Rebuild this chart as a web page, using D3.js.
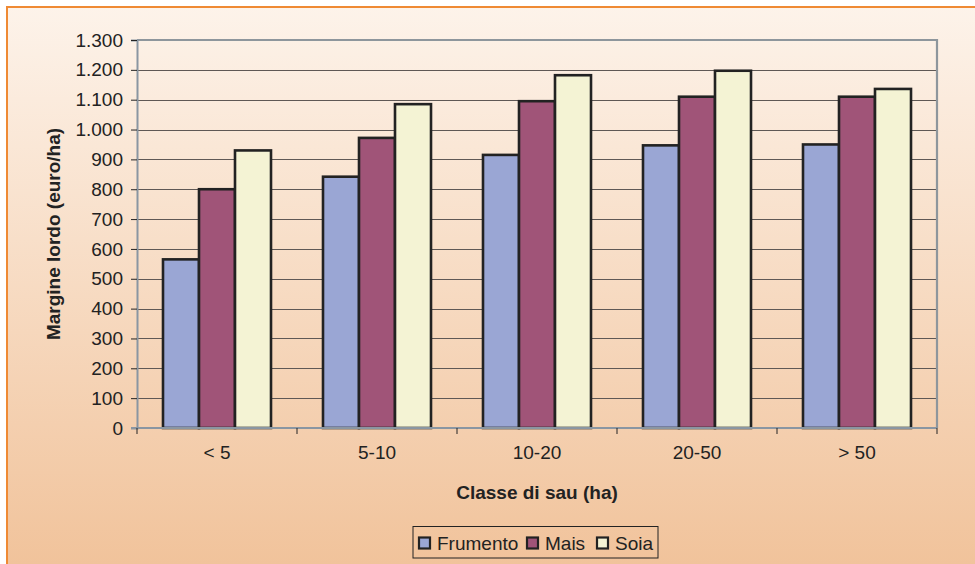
<!DOCTYPE html>
<html>
<head>
<meta charset="utf-8">
<script src="https://cdn.jsdelivr.net/npm/d3@7"></script>
<style>
  html, body { margin: 0; padding: 0; background: #ffffff; }
  svg { display: block; font-family: "Liberation Sans", Arial, sans-serif; }
</style>
</head>
<body>
<svg id="chart" width="975" height="564"></svg>
<script>
// Margine lordo per classe di SAU
const categories = ["< 5", "5-10", "10-20", "20-50", "> 50"];
const seriesNames = ["Frumento", "Mais", "Soia"];
const frumento = [565, 842, 915, 947, 950];
const mais = [800, 972, 1095, 1110, 1110];
const soia = [930, 1085, 1182, 1197, 1136];
const yTicks = [0, 100, 200, 300, 400, 500, 600, 700, 800, 900, 1000, 1100, 1200, 1300];

const seriesValues = [frumento, mais, soia];
const colors = ["#9aa6d4", "#a05478", "#f4f3d4"];

const svg = d3.select("#chart");
const W = 975, H = 564;
const plot = { left: 137, right: 937, top: 40, bottom: 428 };
const FONT = 19;

// background panel with vertical gradient
const defs = svg.append("defs");
const grad = defs.append("linearGradient").attr("id", "bg").attr("x1", 0).attr("y1", 0).attr("x2", 0).attr("y2", 1);
grad.append("stop").attr("offset", "0%").attr("stop-color", "#fdf3ea");
grad.append("stop").attr("offset", "100%").attr("stop-color", "#f1c39b");

svg.append("rect").attr("x", 7).attr("y", 7).attr("width", W - 7).attr("height", H - 7).attr("fill", "url(#bg)");
svg.append("path")
  .attr("d", `M7,${H} L7,7 L${W},7`)
  .attr("fill", "none").attr("stroke", "#ef8a34").attr("stroke-width", 2);

// scales
const y = d3.scaleLinear().domain([0, 1300]).range([plot.bottom, plot.top]);
const x0 = d3.scaleBand().domain(categories).range([plot.left, plot.right]).padding(0);
const groupW = x0.bandwidth();
const x1 = d3.scaleBand().domain(seriesNames).range([groupW * 0.1625, groupW * 0.8375]).padding(0);

const it = d3.formatLocale({ decimal: ",", thousands: ".", grouping: [3], currency: ["€", ""] });
const fmt = it.format(",d");

// horizontal gridlines
svg.append("g").selectAll("line").data(yTicks.filter(d => d > 0)).join("line")
  .attr("x1", plot.left).attr("x2", plot.right)
  .attr("y1", d => Math.round(y(d)) + 0.5).attr("y2", d => Math.round(y(d)) + 0.5)
  .attr("stroke", "#5f5855").attr("stroke-width", 1.2);

// plot frame: top and right
svg.append("path")
  .attr("d", `M${plot.left},${y(1300)} L${plot.right},${y(1300)} L${plot.right},${plot.bottom}`)
  .attr("fill", "none").attr("stroke", "#8e969c").attr("stroke-width", 2.2);

// bars
const groups = svg.append("g").selectAll("g").data(categories).join("g")
  .attr("transform", d => `translate(${x0(d)},0)`);
groups.selectAll("rect")
  .data((c, ci) => seriesNames.map((s, si) => ({ s, si, v: seriesValues[si][ci] })))
  .join("rect")
  .attr("x", d => x1(d.s))
  .attr("y", d => y(d.v))
  .attr("width", x1.bandwidth())
  .attr("height", d => y(0) - y(d.v))
  .attr("fill", d => colors[d.si])
  .attr("stroke", "#222222")
  .attr("stroke-width", 2.6);

// y axis
const yAxis = d3.axisLeft(y).tickValues(yTicks).tickFormat(fmt).tickSize(6).tickPadding(8);
const gy = svg.append("g").attr("transform", `translate(${plot.left},0)`).call(yAxis);
gy.select(".domain").attr("stroke", "#8a96a2").attr("stroke-width", 2);
gy.selectAll(".tick line").attr("stroke", "#222").attr("stroke-width", 1);
gy.selectAll(".tick text").attr("font-size", FONT).attr("fill", "#222")
  .attr("font-family", "'Liberation Sans', Arial, sans-serif");

// x axis: ticks at category boundaries
svg.append("line")
  .attr("x1", plot.left - 6).attr("x2", plot.right)
  .attr("y1", plot.bottom).attr("y2", plot.bottom)
  .attr("stroke", "#8a96a2").attr("stroke-width", 2);
const bounds = categories.map(c => x0(c)).concat([plot.right]);
svg.append("g").selectAll("line").data(bounds).join("line")
  .attr("x1", d => d).attr("x2", d => d)
  .attr("y1", plot.bottom).attr("y2", plot.bottom + 6)
  .attr("stroke", "#222").attr("stroke-width", 1);
svg.append("g").selectAll("text").data(categories).join("text")
  .attr("x", d => x0(d) + groupW / 2)
  .attr("y", 459)
  .attr("text-anchor", "middle")
  .attr("font-size", FONT).attr("fill", "#222")
  .text(d => d);

// axis titles
svg.append("text")
  .attr("x", (plot.left + plot.right) / 2).attr("y", 499)
  .attr("text-anchor", "middle").attr("font-size", FONT).attr("font-weight", "bold").attr("fill", "#222")
  .text("Classe di sau (ha)");
svg.append("text")
  .attr("transform", `translate(60,${(plot.top + plot.bottom) / 2}) rotate(-90)`)
  .attr("text-anchor", "middle").attr("font-size", FONT).attr("font-weight", "bold").attr("fill", "#222")
  .text("Margine lordo (euro/ha)");

// legend
const lg = svg.append("g").attr("transform", "translate(413,526.5)");
lg.append("rect").attr("x", 0).attr("y", 0).attr("width", 245).attr("height", 31.5)
  .attr("fill", "none").attr("stroke", "#222").attr("stroke-width", 1);
const offsets = [5, 113, 183];
seriesNames.forEach((s, i) => {
  const g = lg.append("g").attr("transform", `translate(${offsets[i]},0)`);
  g.append("rect").attr("x", 1).attr("y", 11).attr("width", 11).attr("height", 11)
    .attr("fill", colors[i]).attr("stroke", "#222").attr("stroke-width", 2.2);
  g.append("text").attr("x", 19).attr("y", 23).attr("font-size", FONT).attr("fill", "#222").text(s);
});
</script>
</body>
</html>
